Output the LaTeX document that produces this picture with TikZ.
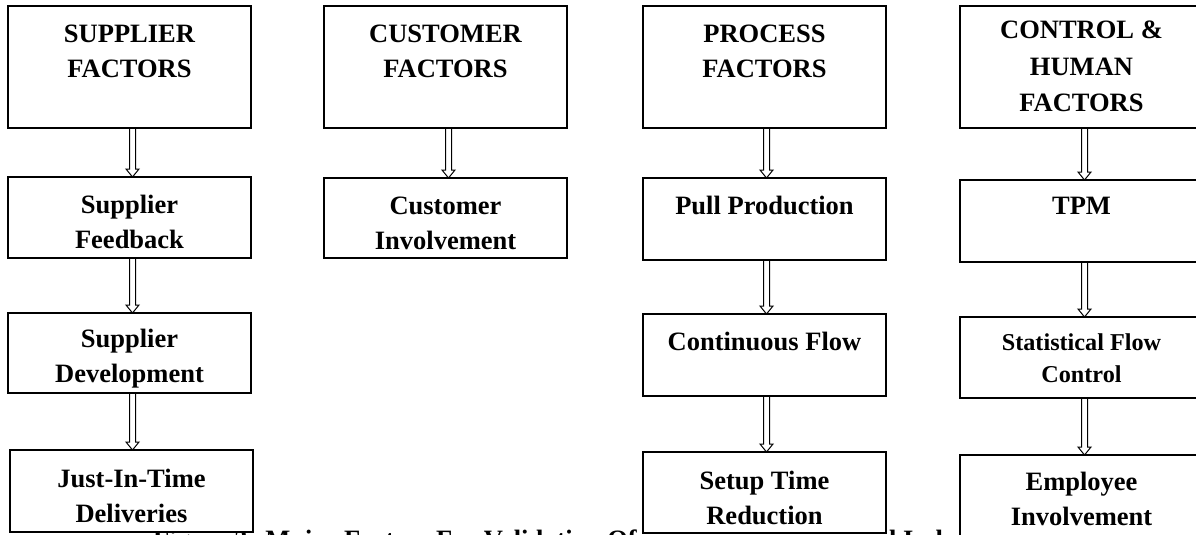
\documentclass[tikz,border=0pt]{standalone}
\usepackage{fontspec}
\setmainfont{Liberation Serif}
\usetikzlibrary{positioning,calc}

\newcommand{\ftext}[1]{\parbox[t]{236pt}{\centering #1}}

\begin{document}
\begin{tikzpicture}[factor/.style={draw,fill=white,line width=1.4pt,minimum width=243pt,inner sep=0pt,outer sep=0pt,text height=36pt,font=\fontsize{26.5}{35}\selectfont\bfseries},
	hollow/.style={line width=1pt,to path={let \p1=(\tikztostart),\p2=(\tikztotarget) in
		(\x1-3pt,\y1) -- (\x1-3pt,\y2+8pt) -- (\x1-6.5pt,\y2+8pt) -- (\x1,\y2) -- (\x1+6.5pt,\y2+8pt) -- (\x1+3pt,\y2+8pt) -- (\x1+3pt,\y1)}},
	caption/.style={anchor=base west,inner sep=0pt,font=\fontsize{26.5}{35}\selectfont\bfseries}]
	\useasboundingbox (0,0) rectangle (1196pt,-535pt);
	\node (caption) [caption] at (153pt,-548pt) {Figure 3: Major Factors For Validation Of};
	\node (captail) [caption] at (889pt,-548pt) {l Ind};
	\node (sup) [factor,text height=37pt,text depth=85pt,anchor=north west] at (8pt,-6pt) {\ftext{SUPPLIER\\FACTORS}};
	\node (cus) [factor,text height=37pt,text depth=85pt,right=73pt of sup] {\ftext{CUSTOMER\\FACTORS}};
	\node (pro) [factor,text height=37pt,text depth=85pt,right=76pt of cus] {\ftext{PROCESS\\FACTORS}};
	\node (con) [factor,text height=33pt,text depth=89pt,font=\fontsize{26.5}{36.5}\selectfont\bfseries,right=74pt of pro] {\ftext{CONTROL \&\\HUMAN\\FACTORS}};
	\node (feedback) [factor,text depth=45pt,below=49pt of sup] {\ftext{Supplier\\Feedback}};
	\node (develop) [factor,text height=34pt,text depth=46pt,below=55pt of feedback] {\ftext{Supplier\\Development}};
	\node (jit) [factor,text height=37pt,text depth=45pt,below=57pt of develop,xshift=2pt] {\ftext{Just-In-Time\\Deliveries}};
	\node (involve) [factor,text depth=44pt,below=50pt of cus] {\ftext{Customer\\Involvement}};
	\node (pull) [factor,text depth=46pt,below=50pt of pro] {\ftext{Pull Production}};
	\node (flow) [factor,text depth=46pt,below=54pt of pull] {\ftext{Continuous Flow}};
	\node (setup) [factor,text height=37pt,text depth=44pt,below=56pt of flow] {\ftext{Setup Time\\Reduction}};
	\node (tpm) [factor,text height=34pt,text depth=48pt,below=52pt of con] {\ftext{TPM}};
	\node (spc) [factor,text height=33pt,text depth=48pt,font=\fontsize{24.2}{32}\selectfont\bfseries,below=55pt of tpm] {\ftext{Statistical Flow\\Control}};
	\node (employ) [factor,text height=35pt,text depth=55pt,below=57pt of spc] {\ftext{Employee\\Involvement}};
	\draw [hollow] ([xshift=3pt]sup.south) to ([xshift=3pt]feedback.north);
	\draw [hollow] ([xshift=3pt]feedback.south) to ([xshift=3pt]develop.north);
	\draw [hollow] ([xshift=3pt]develop.south) to ([xshift=3pt]jit.north);
	\draw [hollow] ([xshift=3pt]cus.south) to ([xshift=3pt]involve.north);
	\draw [hollow] ([xshift=2pt]pro.south) to ([xshift=2pt]pull.north);
	\draw [hollow] ([xshift=2pt]pull.south) to ([xshift=2pt]flow.north);
	\draw [hollow] ([xshift=2pt]flow.south) to ([xshift=2pt]setup.north);
	\draw [hollow] ([xshift=3pt]con.south) to ([xshift=3pt]tpm.north);
	\draw [hollow] ([xshift=3pt]tpm.south) to ([xshift=3pt]spc.north);
	\draw [hollow] ([xshift=3pt]spc.south) to ([xshift=3pt]employ.north);
\end{tikzpicture}
\end{document}
